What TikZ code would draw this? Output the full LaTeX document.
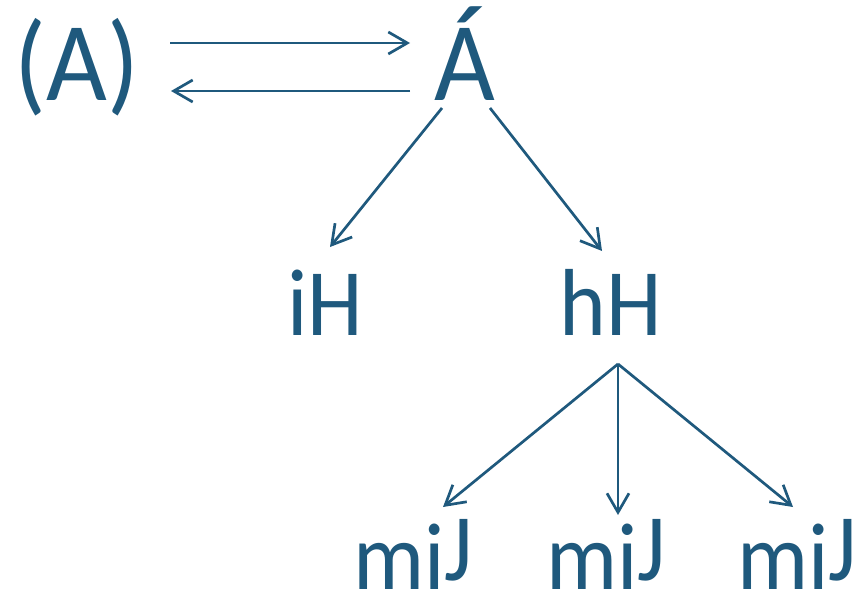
\documentclass[tikz,border=0pt]{standalone}
\usepackage{fontspec}
\setmainfont{Carlito}
\usetikzlibrary{arrows.meta,calc}
\definecolor{ink}{RGB}{31,89,125}
\newcommand{\liftJ}{\raisebox{0.09em}{J}}
\newcommand{\tall}[1]{\scalebox{1}[1.07]{#1}}
\tikzset{
  lbl/.style={inner sep=0pt, anchor=base, text=ink},
  big/.style={lbl, font=\fontsize{105}{120}\selectfont},
  small/.style={lbl, font=\fontsize{89}{100}\selectfont},
  arr/.style={draw=ink, line width=2.7pt, -{Straight Barb[length=19pt,width=22pt,line width=2.7pt]}}
}
\begin{document}
\begin{tikzpicture}[x=1pt,y=-1pt]
\useasboundingbox (0,0) rectangle (862,594);
\node[big] (pA) at (77,100) {\tall{(A)}};
\node[big] (Aa) at (465,100) {\tall{Á}};
\node[small] (iH) at (325,335) {\tall{iH}};
\node[small] (hH) at (611,335) {\tall{hH}};
\node[small] (m1) at (413,589) {\tall{mi\liftJ}};
\node[small] (m2) at (606,589) {\tall{mi\liftJ}};
\node[small] (m3) at (797,589) {\tall{mi\liftJ}};
\draw[arr] ($(pA.base)+(93,-57)$) -- ($(Aa.base)+(-55,-57)$);
\draw[arr] ($(Aa.base)+(-55,-9)$) -- ($(pA.base)+(94,-9)$);
\draw[arr] ($(Aa.base)+(-23,8)$) -- ($(iH.base)+(5,-88)$);
\draw[arr] ($(Aa.base)+(25,8)$) -- ($(hH.base)+(-9,-84)$);
\coordinate (hs) at ($(hH.base)+(7,29)$);
\draw[arr] (hs) -- ($(m1.base)+(30,-82)$);
\draw[arr] (hs) -- ($(m2.base)+(12,-74)$);
\draw[arr] (hs) -- ($(m3.base)+(-4,-82)$);
\end{tikzpicture}
\end{document}
